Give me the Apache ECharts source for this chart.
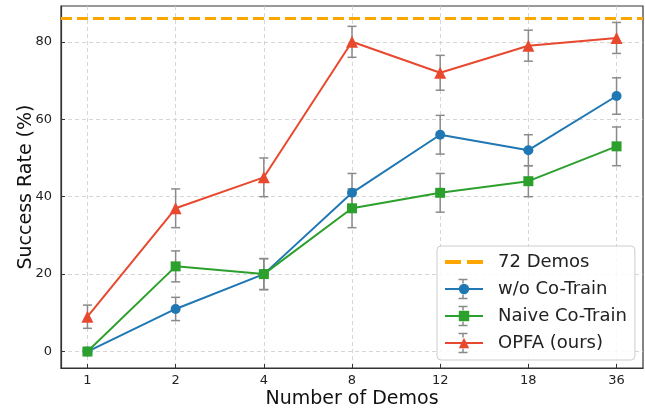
<!DOCTYPE html>
<html>
<head>
<meta charset="utf-8">
<script src="https://cdn.jsdelivr.net/npm/echarts@6/dist/echarts.min.js"></script>
<style>
  html, body { margin: 0; padding: 0; background: #fff; }
  #chart { width: 645px; height: 415px; }
</style>
</head>
<body>
<div id="chart"></div>
<script>
// Number of demonstrations used for training
const demos = ['1', '2', '4', '8', '12', '18', '36'];

// Success rates (%) and their error half-widths
const woCoTrain = [0, 11, 20, 41, 56, 52, 66];
const woCoTrainErr = [0, 3, 4, 5, 5, 4, 4.7];
const naiveCoTrain = [0, 22, 20, 37, 41, 44, 53];
const naiveCoTrainErr = [0, 4, 4, 5, 5, 4, 5];
const opfa = [9, 37, 45, 80, 72, 79, 81];
const opfaErr = [3, 5, 5, 4, 4.5, 4, 4];

// Reference level reached with the full 72 demos
const demos72 = 86;

const yTicks = [0, 20, 40, 60, 80];

const FONT = 'DejaVu Sans';
const COLORS = { wo: '#1f77b4', naive: '#2ca02c', opfa: '#e8492e', ref: '#ffa500' };
const ERR_COLOR = '#8a8a8a';

const xIdx = demos.map((_, i) => i);

function points(vals) {
  return vals.map((v, i) => [i, v]);
}
function errData(vals, errs) {
  return vals.map((v, i) => [i, v - errs[i], v + errs[i]]);
}

function errorBarSeries(name, vals, errs) {
  return {
    type: 'custom',
    name: name + ' error',
    z: 2,
    silent: true,
    data: errData(vals, errs),
    renderItem: function (params, api) {
      const x = api.value(0);
      const top = api.coord([x, api.value(2)]);
      const bot = api.coord([x, api.value(1)]);
      if (Math.abs(top[1] - bot[1]) < 0.5) return null;
      const w = 4.5;
      const style = { stroke: ERR_COLOR, lineWidth: 1.5 };
      return {
        type: 'group',
        children: [
          { type: 'line', shape: { x1: top[0], y1: top[1], x2: bot[0], y2: bot[1] }, style: style },
          { type: 'line', shape: { x1: top[0] - w, y1: top[1], x2: top[0] + w, y2: top[1] }, style: style },
          { type: 'line', shape: { x1: bot[0] - w, y1: bot[1], x2: bot[0] + w, y2: bot[1] }, style: style }
        ]
      };
    }
  };
}

function lineSeries(name, vals, color, symbol, size) {
  return {
    type: 'line',
    name: name,
    z: 3,
    data: points(vals),
    symbol: symbol,
    symbolSize: size,
    showAllSymbol: true,
    itemStyle: { color: color, borderWidth: 0 },
    lineStyle: { color: color, width: 2 },
    emphasis: { disabled: true }
  };
}

// Legend layout
const LEG = { left: 437, top: 246, padTop: 6, padLeft: 7, itemWidth: 38, rowPitch: 27, rowHeight: 20 };

// Small grey error-bar glyphs drawn into the legend keys of the three series rows
function legendErrorGlyphs() {
  const out = [];
  const cx = LEG.left + LEG.padLeft + LEG.itemWidth / 2;
  const half = 9.5, gap = 5.5, w = 4.5;
  for (let row = 1; row <= 3; row++) {
    const cy = LEG.top + LEG.padTop + row * LEG.rowPitch + LEG.rowHeight / 2;
    const style = { stroke: ERR_COLOR, lineWidth: 1.5 };
    out.push(
      { type: 'line', z: 10, silent: true, shape: { x1: cx, y1: cy - half, x2: cx, y2: cy - gap }, style: style },
      { type: 'line', z: 10, silent: true, shape: { x1: cx, y1: cy + gap, x2: cx, y2: cy + half }, style: style },
      { type: 'line', z: 10, silent: true, shape: { x1: cx - w, y1: cy - half, x2: cx + w, y2: cy - half }, style: style },
      { type: 'line', z: 10, silent: true, shape: { x1: cx - w, y1: cy + half, x2: cx + w, y2: cy + half }, style: style }
    );
  }
  return out;
}

const chart = echarts.init(document.getElementById('chart'), null, { renderer: 'canvas' });

const gridLine = { show: true, lineStyle: { color: '#cccccc', width: 0.8, type: [4, 3] } };

chart.setOption({
  animation: false,
  textStyle: { fontFamily: FONT },
  grid: {
    left: 61, right: 2, top: 6, bottom: 47,
    outerBoundsMode: 'none',
    containLabel: false,
    show: true, borderColor: '#333', borderWidth: 1.2, backgroundColor: 'transparent'
  },
  xAxis: {
    type: 'value',
    min: -0.3,
    max: 6.3,
    name: 'Number of Demos',
    nameLocation: 'middle',
    nameGap: 22,
    nameMoveOverlap: false,
    nameTextStyle: { fontFamily: FONT, fontSize: 19, color: '#111' },
    axisLine: { show: true, onZero: false, lineStyle: { color: '#333', width: 1.2 } },
    axisTick: { show: true, inside: true, length: 4, customValues: xIdx, lineStyle: { color: '#333', width: 1 } },
    axisLabel: {
      customValues: xIdx,
      formatter: v => demos[Math.round(v)],
      fontFamily: FONT, fontSize: 13, color: '#222', margin: 6
    },
    splitLine: gridLine
  },
  yAxis: {
    type: 'value',
    min: -4.25,
    max: 89.25,
    name: 'Success Rate (%)',
    nameLocation: 'middle',
    nameGap: 25,
    nameMoveOverlap: false,
    nameTextStyle: { fontFamily: FONT, fontSize: 19, color: '#111' },
    axisLine: { show: true, onZero: false, lineStyle: { color: '#333', width: 1.2 } },
    axisTick: { show: true, inside: true, length: 4, customValues: yTicks, lineStyle: { color: '#333', width: 1 } },
    axisLabel: {
      customValues: yTicks,
      fontFamily: FONT, fontSize: 13, color: '#222', margin: 9
    },
    splitLine: gridLine
  },
  legend: {
    orient: 'vertical',
    left: LEG.left,
    top: LEG.top,
    padding: [LEG.padTop, 8, 7, LEG.padLeft],
    itemWidth: LEG.itemWidth,
    itemHeight: 13,
    itemGap: LEG.rowPitch - LEG.rowHeight,
    backgroundColor: 'rgba(255,255,255,0.85)',
    borderColor: '#cccccc',
    borderWidth: 1,
    borderRadius: 4,
    textStyle: { fontFamily: FONT, fontSize: 18, color: '#222', lineHeight: LEG.rowHeight, padding: [0, 0, 0, 10] },
    data: [
      { name: '72 Demos', icon: 'path://M0,0h16v4h-16z M22,0h16v4h-16z', itemHeight: 4 },
      'w/o Co-Train', 'Naive Co-Train', 'OPFA (ours)'
    ]
  },
  graphic: legendErrorGlyphs(),
  series: [
    {
      type: 'line',
      name: '72 Demos',
      z: 4,
      data: [[-0.3, demos72], [6.3, demos72]],
      symbol: 'none',
      lineStyle: { color: COLORS.ref, width: 3, type: [11, 5] },
      itemStyle: { color: COLORS.ref },
      emphasis: { disabled: true }
    },
    lineSeries('w/o Co-Train', woCoTrain, COLORS.wo, 'circle', 10),
    lineSeries('Naive Co-Train', naiveCoTrain, COLORS.naive, 'rect', 10),
    lineSeries('OPFA (ours)', opfa, COLORS.opfa, 'triangle', 12),
    errorBarSeries('w/o Co-Train', woCoTrain, woCoTrainErr),
    errorBarSeries('Naive Co-Train', naiveCoTrain, naiveCoTrainErr),
    errorBarSeries('OPFA (ours)', opfa, opfaErr)
  ]
});
</script>
</body>
</html>
